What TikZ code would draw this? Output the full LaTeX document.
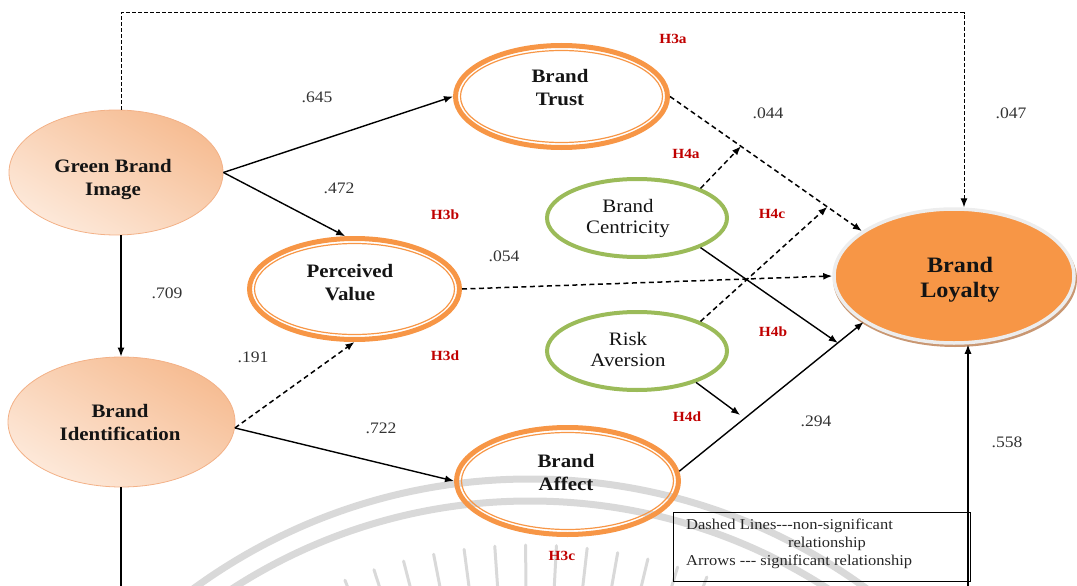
\documentclass[tikz,border=0pt]{standalone}
\usepackage{fontspec}
\setmainfont{Liberation Serif}[FakeStretch=1.1]
\usetikzlibrary{shapes.geometric,arrows.meta,calc}

\definecolor{accorange}{HTML}{F79646}
\definecolor{accgreen}{HTML}{9BBB59}
\definecolor{hypred}{HTML}{C00000}
\definecolor{peachdark}{HTML}{F6BC92}
\definecolor{peachlight}{HTML}{FDE9DA}
\definecolor{peachedge}{HTML}{F3B187}
\definecolor{inktext}{HTML}{141414}
\definecolor{wmgray}{HTML}{D9D9D9}
\definecolor{blring}{HTML}{EDEDED}
\definecolor{blshadow}{HTML}{C99772}

% a hyphen that is never joined into a dash
\newcommand{\hyph}{\mbox{-}}

\begin{document}
\begin{tikzpicture}[x=1pt,y=-1pt,
  tip/.style={-{Latex[length=9pt,width=7pt]}},
  sig/.style={tip, line width=1.4pt},
  nonsig/.style={tip, line width=1.5pt, dash pattern=on 5pt off 3.5pt},
  topdash/.style={tip, line width=1pt, dash pattern=on 4pt off 2pt},
  plainline/.style={line width=1.1pt},
  ring/.style={ellipse, draw=accorange, line width=5pt, inner sep=0pt},
  innerring/.style={draw=accorange, line width=1.2pt},
  moder/.style={ellipse, draw=accgreen, line width=4pt, inner sep=0pt},
  peach/.style={ellipse, draw=peachedge, line width=0.8pt, inner sep=0pt,
    top color=peachdark, bottom color=peachlight, shading angle=-30},
  lbl/.style={inner sep=0pt, align=center, text=inktext, font=\fontsize{19}{23}\selectfont\bfseries},
  modlbl/.style={inner sep=0pt, align=center, text=inktext, font=\fontsize{19}{21}\selectfont},
  num/.style={inner sep=0pt, text=black!80, font=\fontsize{16}{18}\selectfont},
  hyp/.style={inner sep=0pt, text=hypred, font=\fontsize{14}{16}\selectfont\bfseries},
  legtxt/.style={inner sep=0pt, text=black!85, font=\fontsize{15}{17}\selectfont},
  wm/.style={draw=wmgray}
]
\useasboundingbox (0,0) rectangle (1077,586);
\clip (0,0) rectangle (1077,586);

% faint emblem behind the model
\coordinate (wmc) at (530,1050);
\draw[wm, line width=7pt] (wmc) circle [radius=571];
\draw[wm, line width=7pt] (wmc) circle [radius=549];
\foreach \a in {245,248.5,...,296}
  \draw[wm, line width=3pt, line cap=round] ($(wmc)+(\a:440)$) -- ($(wmc)+(\a:505)$);

% constructs
\node[peach, minimum width=214, minimum height=125] (gbi) at (116,172.5) {};
\node[peach, minimum width=227, minimum height=130] (bi) at (121.5,422) {};
\node[ring, minimum width=212, minimum height=102] (bt) at (561.5,96.5) {};
\node[ring, minimum width=210, minimum height=101] (pv) at (354.5,289) {};
\node[ring, minimum width=222, minimum height=107] (ba) at (567.5,481) {};
\node[moder, minimum width=180, minimum height=78] (bc) at (637,218) {};
\node[moder, minimum width=180, minimum height=78] (ra) at (637,351) {};

\foreach \n/\rx/\ry in {bt/101/46, pv/100/45.5, ba/106/48.5}
  \draw[innerring] (\n.center) ellipse [x radius=\rx, y radius=\ry];

\coordinate (blc) at (954,276);
\fill[blshadow] ($(blc)+(1,3)$) ellipse [x radius=122, y radius=68];
\node[ellipse, fill=accorange, draw=blring, line width=3.5pt, inner sep=0pt,
  minimum width=240, minimum height=134] (bl) at (blc) {};

% construct names
\node[lbl] (gbi-t) at (113,180) {Green Brand\\Image};
\node[lbl] (bi-t) at (120,422) {Brand\\Identification};
\node[lbl] (bt-t) at (560,88) {Brand\\Trust};
\node[lbl] (pv-t) at (350,283) {Perceived\\Value};
\node[lbl] (ba-t) at (566,472) {Brand\\Affect};
\node[modlbl] (bc-t) at (628,218) {Brand\\Centricity};
\node[modlbl] (ra-t) at (628,349) {Risk\\Aversion};
\node[lbl, font=\fontsize{22}{25}\selectfont\bfseries] (bl-t) at (960,280) {Brand\\Loyalty};

% paths
\draw[sig] (gbi.east) -- (bt.west);
\draw[sig] (gbi.east) -- (pv.100);
\draw[nonsig] (bi.-3) -- (pv.south);
\draw[sig] (bi.-3) -- (ba.west);
\draw[nonsig] (bt.east) -- (bl.154);
\draw[nonsig] (pv.east) -- (bl.west);
\draw[sig] (ba.5) -- (bl.207);

% moderating effects onto the direct paths
\coordinate (h4a) at ($(bt.east)!0.37!(bl.154)$);
\coordinate (h4c) at ($(bt.east)!0.82!(bl.154)$);
\coordinate (h4b) at ($(ba.5)!0.86!(bl.207)$);
\coordinate (h4d) at ($(ba.5)!0.33!(bl.207)+(0,-7)$);
\draw[nonsig] (bc.25) -- (h4a);
\draw[nonsig] (ra.25) -- (h4c);
\draw[sig] (bc.-25) -- (h4b);
\draw[sig] (ra.-28) -- (h4d);

% long paths around the model
\coordinate (topl) at (121,13);
\coordinate (topr) at (964,13);
\coordinate (lowl) at (121,610);
\coordinate (lowr) at (968,610);
\draw[sig] (gbi.south -| topl) -- (bi.north -| topl);
\draw[topdash] (gbi.north -| topl) -- (topl) -- (topr) -- (bl.north -| topr);
\draw[plainline, tip] (bi.south -| lowl) -- (lowl) -- (lowr) -- (bl.south -| lowr);

% coefficients
\node[num] (c645) at (317,97) {.645};
\node[num] (c472) at (339,188) {.472};
\node[num] (c709) at (167,293) {.709};
\node[num] (c191) at (253,357) {.191};
\node[num] (c722) at (381,428) {.722};
\node[num] (c054) at (504,256) {.054};
\node[num] (c044) at (768,113) {.044};
\node[num] (c047) at (1011,113) {.047};
\node[num] (c294) at (816,421) {.294};
\node[num] (c558) at (1007,442) {.558};

% hypotheses
\node[hyp] (l3a) at (673,39) {H3a};
\node[hyp] (l4a) at (686,154) {H4a};
\node[hyp] (l4c) at (772,214) {H4c};
\node[hyp] (l3b) at (445,215) {H3b};
\node[hyp] (l4b) at (773,332) {H4b};
\node[hyp] (l3d) at (445,356) {H3d};
\node[hyp] (l4d) at (687,417) {H4d};
\node[hyp] (l3c) at (562,556) {H3c};

% key
\node[draw, line width=1.1pt, inner sep=0pt, anchor=north west,
  minimum width=297, minimum height=69] (key) at (673,512) {};
\node[legtxt, anchor=base west] (key1) at (686,529) {Dashed Lines\hyph\hyph\hyph non-significant};
\node[legtxt, anchor=base] (key2) at (827,547) {relationship};
\node[legtxt, anchor=base west] (key3) at (686,565) {Arrows \hyph\hyph\hyph\ significant relationship};
\end{tikzpicture}
\end{document}
